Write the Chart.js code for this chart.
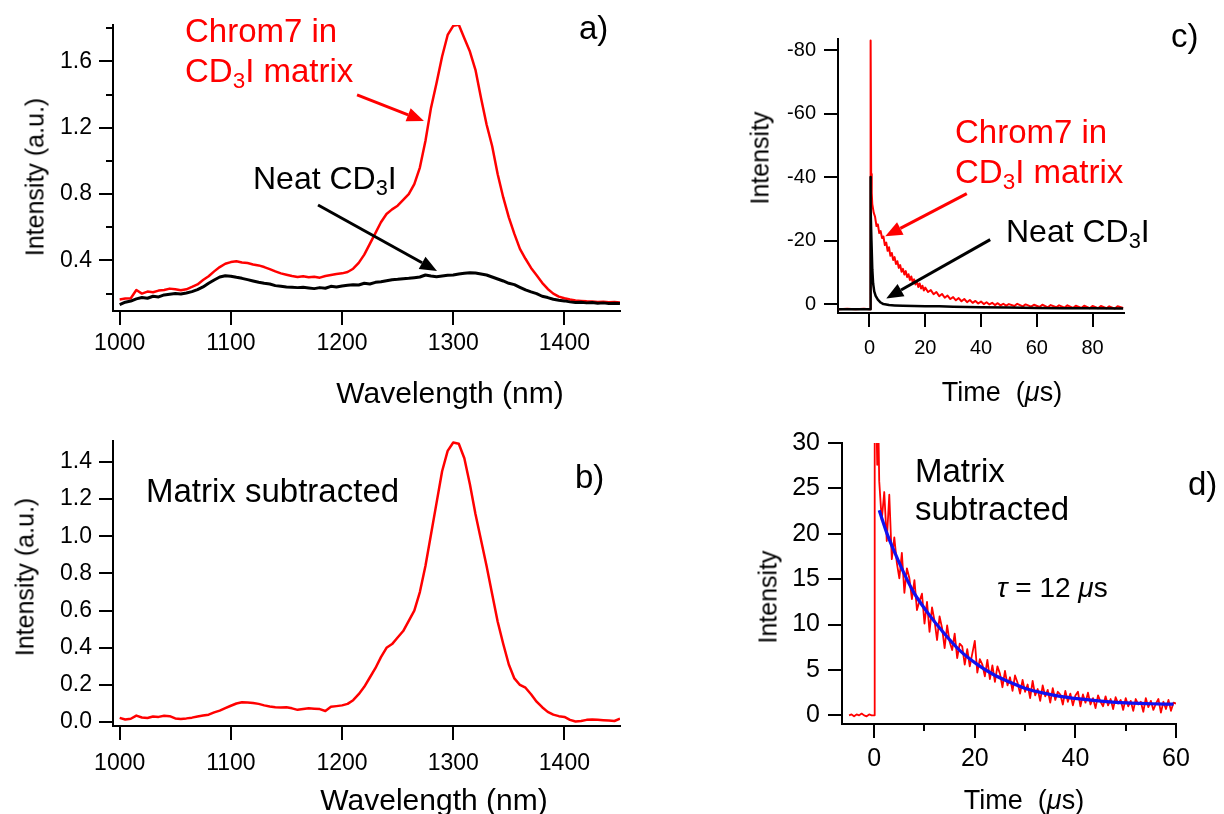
<!DOCTYPE html>
<html>

<head>
    <meta charset="UTF-8">
    <title>Chrom7 emission spectra and decays</title>
    <script src="https://cdn.jsdelivr.net/npm/chart.js"></script>
    <style>
        body {
            margin: 0;
            width: 1224px;
            height: 814px;
            position: relative;
            overflow: hidden;
            background: #fff;
            font-family: "Liberation Sans", Arial, Helvetica, sans-serif;
        }

        canvas {
            position: absolute;
        }

        .ann {
            position: absolute;
            white-space: nowrap;
            font-size: 33px;
            line-height: 40px;
            color: #000;
        }

        .red {
            color: #ff0000;
        }

        .lab {
            position: absolute;
            white-space: nowrap;
            line-height: 1;
            color: #000;
            transform: translate(-50%, -50%);
        }

        .rot {
            transform: translate(-50%, -50%) rotate(-90deg);
        }

        sub {
            font-size: 0.68em;
            vertical-align: -0.28em;
            line-height: 0;
        }
    </style>
</head>

<body>
    <canvas id="chartA" width="640" height="410" style="left:0;top:0"></canvas>
    <canvas id="chartB" width="640" height="394" style="left:0;top:420px"></canvas>
    <canvas id="chartC" width="494" height="410" style="left:730px;top:0"></canvas>
    <canvas id="chartD" width="464" height="394" style="left:760px;top:420px"></canvas>

    <!-- panel a -->
    <div class="ann red" style="left:185px;top:11px">Chrom7 in<br>CD<sub>3</sub>I matrix</div>
    <div class="ann" style="left:253px;top:158px;font-size:32px">Neat CD<sub>3</sub>I</div>
    <div class="ann" style="left:579px;top:8px">a)</div>
    <div class="lab rot" style="left:35px;top:177px;font-size:25px">Intensity (a.u.)</div>
    <div class="lab" style="left:450px;top:393px;font-size:30px">Wavelength (nm)</div>

    <!-- panel b -->
    <div class="ann" style="left:146px;top:471px">Matrix subtracted</div>
    <div class="ann" style="left:575px;top:457px">b)</div>
    <div class="lab rot" style="left:25px;top:577px;font-size:25px">Intensity (a.u.)</div>
    <div class="lab" style="left:434px;top:800px;font-size:30px">Wavelength (nm)</div>

    <!-- panel c -->
    <div class="ann red" style="left:955px;top:112px">Chrom7 in<br>CD<sub>3</sub>I matrix</div>
    <div class="ann" style="left:1006px;top:211px;font-size:32px">Neat CD<sub>3</sub>I</div>
    <div class="ann" style="left:1171px;top:16px">c)</div>
    <div class="lab rot" style="left:760px;top:158px;font-size:25px">Intensity</div>
    <div class="lab" style="left:1002px;top:392px;font-size:27px">Time&nbsp;&nbsp;(<i>μ</i>s)</div>

    <!-- panel d -->
    <div class="ann" style="left:915px;top:452px;line-height:38px">Matrix<br>subtracted</div>
    <div class="ann" style="left:997px;top:571px;font-size:28px;line-height:34px"><i>τ</i> = 12 <i>μ</i>s</div>
    <div class="ann" style="left:1188px;top:464px">d)</div>
    <div class="lab rot" style="left:768px;top:597px;font-size:25px">Intensity</div>
    <div class="lab" style="left:1024px;top:800px;font-size:27px">Time&nbsp;&nbsp;(<i>μ</i>s)</div>

    <script>
        // ---- spectra (panels a, b) ----
        const wavelength = [1000, 1005, 1010, 1015, 1020, 1025, 1030, 1035, 1040, 1045,
            1050, 1055, 1060, 1065, 1070, 1075, 1080, 1085, 1090, 1095,
            1100, 1105, 1110, 1115, 1120, 1125, 1130, 1135, 1140, 1145,
            1150, 1155, 1160, 1165, 1170, 1175, 1180, 1185, 1190, 1195,
            1200, 1205, 1210, 1215, 1220, 1225, 1230, 1235, 1240, 1245,
            1250, 1255, 1260, 1265, 1270, 1275, 1280, 1285, 1290, 1295,
            1300, 1305, 1310, 1315, 1320, 1325, 1330, 1335, 1340, 1345,
            1350, 1355, 1360, 1365, 1370, 1375, 1380, 1385, 1390, 1395,
            1400, 1405, 1410, 1415, 1420, 1425, 1430, 1435, 1440, 1445, 1450];

        const chromInMatrix = [0.165, 0.170, 0.172, 0.222, 0.200, 0.212, 0.208, 0.218, 0.222, 0.230,
            0.226, 0.220, 0.226, 0.240, 0.255, 0.282, 0.305, 0.334, 0.360, 0.380,
            0.390, 0.395, 0.388, 0.384, 0.376, 0.370, 0.360, 0.348, 0.334, 0.322,
            0.314, 0.306, 0.300, 0.304, 0.298, 0.302, 0.296, 0.306, 0.312, 0.318,
            0.322, 0.330, 0.350, 0.385, 0.435, 0.500, 0.565, 0.630, 0.680, 0.708,
            0.730, 0.765, 0.800, 0.860, 0.960, 1.120, 1.320, 1.470, 1.630, 1.760,
            1.815, 1.822, 1.740, 1.660, 1.550, 1.380, 1.220, 1.090, 0.920, 0.780,
            0.660, 0.560, 0.470, 0.410, 0.355, 0.310, 0.265, 0.228, 0.200, 0.182,
            0.172, 0.164, 0.158, 0.156, 0.154, 0.153, 0.150, 0.151, 0.148, 0.149, 0.147];

        const neatMatrix = [0.134, 0.148, 0.155, 0.168, 0.176, 0.172, 0.184, 0.180, 0.192, 0.196,
            0.200, 0.198, 0.204, 0.212, 0.224, 0.240, 0.262, 0.282, 0.300, 0.308,
            0.305, 0.298, 0.292, 0.284, 0.276, 0.268, 0.262, 0.258, 0.248, 0.244,
            0.240, 0.238, 0.236, 0.238, 0.234, 0.230, 0.236, 0.232, 0.244, 0.240,
            0.246, 0.250, 0.254, 0.252, 0.262, 0.258, 0.268, 0.272, 0.278, 0.284,
            0.286, 0.290, 0.292, 0.296, 0.300, 0.312, 0.306, 0.302, 0.306, 0.310,
            0.312, 0.318, 0.322, 0.326, 0.324, 0.318, 0.312, 0.300, 0.288, 0.276,
            0.262, 0.254, 0.238, 0.222, 0.210, 0.200, 0.184, 0.176, 0.166, 0.160,
            0.156, 0.150, 0.146, 0.148, 0.144, 0.146, 0.142, 0.144, 0.140, 0.142, 0.140];

        const subtractedSpectrum = [0.023, 0.014, 0.018, 0.035, 0.025, 0.022, 0.030, 0.028, 0.034, 0.032,
            0.020, 0.017, 0.020, 0.024, 0.030, 0.035, 0.040, 0.052, 0.062, 0.075,
            0.088, 0.100, 0.107, 0.106, 0.103, 0.098, 0.090, 0.084, 0.080, 0.078,
            0.080, 0.074, 0.066, 0.070, 0.074, 0.072, 0.070, 0.060, 0.082, 0.086,
            0.090, 0.098, 0.118, 0.150, 0.190, 0.240, 0.290, 0.350, 0.400, 0.420,
            0.455, 0.490, 0.545, 0.600, 0.700, 0.840, 1.010, 1.180, 1.350, 1.460,
            1.505, 1.498, 1.420, 1.280, 1.120, 0.980, 0.840, 0.690, 0.540, 0.420,
            0.310, 0.235, 0.200, 0.185, 0.150, 0.110, 0.080, 0.055, 0.040, 0.032,
            0.028, 0.012, 0.003, 0.006, 0.012, 0.014, 0.012, 0.010, 0.008, 0.006, 0.018];

        // ---- decays (panel c) ----
        const decayTimeRed = [-11, -8, -5, -2, 0, 0.3, 0.4, 0.6, 0.8, 1,
            1.5, 2, 2.5, 3, 3.5, 4, 4.5, 5, 5.5, 6,
            6.5, 7, 7.5, 8, 8.5, 9, 9.5, 10, 10.5, 11,
            11.5, 12, 12.5, 13, 13.5, 14, 14.5, 15, 15.5, 16,
            16.5, 17, 17.5, 18, 18.5, 19, 19.5, 20, 21, 22,
            23, 24, 25, 26, 27, 28, 29, 30, 31, 32,
            33, 34, 35, 36, 37, 38, 39, 40, 41, 42,
            43, 44, 45, 46, 47, 48, 49, 50, 52, 53,
            55, 56, 58, 59, 61, 62, 64, 65, 67, 68,
            70, 71, 73, 74, 76, 77, 79, 80, 82, 83,
            85, 86, 88, 89, 91];
        const decayRed = [1.6, 1.5, 1.6, 1.5, 1.6, 1.6, -83, -41, -35, -31.5,
            -28.8, -27.5, -24.6, -25.1, -22.4, -23.0, -20.8, -21.3, -18.6, -19.4,
            -16.8, -17.9, -15.2, -16.1, -13.9, -14.8, -12.6, -13.5, -11.4, -12.3,
            -10.2, -11.1, -9.3, -10.4, -8.5, -9.4, -7.6, -8.7, -6.9, -7.8,
            -6.2, -7.1, -5.4, -6.5, -4.9, -5.8, -4.3, -5.2, -3.8, -4.4,
            -3.1, -3.8, -2.5, -3.2, -2.0, -2.7, -1.6, -2.2, -1.2, -1.9,
            -0.9, -1.6, -0.6, -1.3, -0.4, -1.0, -0.2, -0.8, 0.0, -0.6,
            0.1, -0.4, 0.3, -0.3, 0.4, -0.1, 0.5, 0.0, 0.6, -0.1,
            0.7, 0.1, 0.8, 0.2, 0.9, 0.2, 1.0, 0.3, 1.0, 0.4,
            1.1, 0.4, 1.2, 0.5, 1.2, 0.5, 1.3, 0.6, 1.3, 0.6,
            1.3, 0.7, 1.4, 0.7, 1.2];

        const decayTimeBlack = [-11, -5, 0, 0.2, 0.3, 0.5, 0.7, 1, 1.3, 1.7,
            2.2, 3, 4, 5, 6, 7, 9, 12, 16, 20,
            25, 30, 35, 40, 50, 60, 70, 80, 91];
        const decayBlack = [1.6, 1.6, 1.6, 1.6, -40, -30, -20, -11, -6.5, -4,
            -2.6, -1.4, -0.5, 0.0, 0.1, 0.3, 0.4, 0.5, 0.6, 0.7,
            0.7, 0.8, 0.9, 1.0, 1.1, 1.2, 1.3, 1.3, 1.4];

        // ---- matrix subtracted decay (panel d) ----
        const subTime = [-5, -4.5, -4, -3.5, -3, -2.5, -2, -1.5, -1, -0.5, 0, 0.1, 0.4, 0.6, 0.8,
            1, 1.5, 2, 2.5, 3, 3.5, 4, 4.5, 5, 5.5,
            6, 6.5, 7, 7.5, 8, 8.5, 9, 9.5, 10, 10.5,
            11, 11.5, 12, 12.5, 13, 13.5, 14, 14.5, 15, 15.5,
            16, 16.5, 17, 17.5, 18, 18.5, 19, 19.5, 20, 20.5,
            21, 21.5, 22, 22.5, 23, 23.5, 24, 24.5, 25, 25.5,
            26, 26.5, 27, 27.5, 28, 28.5, 29, 29.5, 30, 30.5,
            31, 31.5, 32, 32.5, 33, 33.5, 34, 34.5, 35, 35.5,
            36, 36.5, 37, 37.5, 38, 38.5, 39, 39.5, 40, 40.5,
            41, 41.5, 42, 42.5, 43, 43.5, 44, 44.5, 45, 45.5,
            46, 46.5, 47, 47.5, 48, 48.5, 49, 49.5, 50, 50.5,
            51, 51.5, 52, 52.5, 53, 53.5, 54, 54.5, 55, 55.5,
            56, 56.5, 57, 57.5, 58, 58.5, 59, 59.5, 60];
        const subDecay = [0, 0.1, -0.1, 0.1, 0, 0.2, 0, -0.1, 0.1, 0, 0, 36, 34, 27.6, 33,
            25.8, 21.5, 24.6, 19.2, 24.3, 17.2, 19.6, 16.8, 15.1, 17.9,
            13.5, 16.2, 15.1, 12.8, 14.9, 11.6, 12.6, 13.4, 10.1, 12.5,
            9.2, 11.9, 10.4, 8.3, 10.9, 9.6, 7.4, 9.9, 8.1, 7.2,
            9.0, 6.3, 7.9, 7.6, 5.6, 7.3, 5.4, 6.8, 8.2, 4.7,
            6.2, 5.6, 4.3, 6.1, 4.0, 5.5, 3.7, 5.4, 4.6, 3.1,
            4.9, 3.3, 4.2, 2.7, 4.4, 3.6, 2.4, 3.9, 2.6, 3.4,
            1.9, 3.8, 2.2, 2.9, 1.6, 3.3, 2.1, 2.8, 1.4, 3.0,
            1.7, 2.6, 2.3, 1.2, 2.7, 1.5, 2.4, 1.1, 2.2, 2.6,
            1.0, 2.3, 1.4, 2.5, 1.2, 1.9, 0.8, 2.2, 1.5, 1.0,
            2.1, 1.1, 1.8, 0.7, 2.0, 1.3, 1.7, 0.6, 1.9, 1.0,
            1.6, 0.5, 1.8, 1.2, 1.5, 0.4, 1.9, 0.9, 1.6, 0.6,
            1.3, 1.8, 0.3, 1.5, 0.7, 1.7, 0.5, 1.4, 1.3];

        const fitTime = [1.0, 2.5, 3.8, 5.8, 7.8, 10.5, 13.8, 17.1, 20.4, 23.7, 27, 30.4, 33.7, 37, 40.3, 43.6, 50.2, 55, 59.5];
        const fitDecay = [22.6, 20.1, 18.3, 15.8, 13.6, 11.4, 9.1, 7.1, 5.65, 4.5, 3.65, 2.9, 2.45, 2.1, 1.85, 1.66, 1.37, 1.28, 1.23];

        // minor (unlabelled) tick positions
        const minorTicksA = [0.2, 0.6, 1.0, 1.4, 1.8];
        const minorTicksD = [10, 30, 50];

        const FONT = '"Liberation Sans", Arial, Helvetica, sans-serif';

        function pts(xs, ys) {
            return xs.map((x, i) => ({ x: x, y: ys[i] }));
        }

        // arrows given in data units, converted by the chart's own scales
        function arrowPlugin(list) {
            return {
                id: 'arrows',
                afterDatasetsDraw(chart) {
                    const ctx = chart.ctx, sx = chart.scales.x, sy = chart.scales.y;
                    list.forEach(a => {
                        const x1 = sx.getPixelForValue(a.from[0]), y1 = sy.getPixelForValue(a.from[1]);
                        const x2 = sx.getPixelForValue(a.to[0]), y2 = sy.getPixelForValue(a.to[1]);
                        const ang = Math.atan2(y2 - y1, x2 - x1);
                        const head = 17, half = 7;
                        const bx = x2 - head * Math.cos(ang), by = y2 - head * Math.sin(ang);
                        ctx.save();
                        ctx.strokeStyle = a.color;
                        ctx.fillStyle = a.color;
                        ctx.lineWidth = 3;
                        ctx.beginPath();
                        ctx.moveTo(x1, y1);
                        ctx.lineTo(bx, by);
                        ctx.stroke();
                        ctx.beginPath();
                        ctx.moveTo(x2, y2);
                        ctx.lineTo(bx + half * Math.sin(ang), by - half * Math.cos(ang));
                        ctx.lineTo(bx - half * Math.sin(ang), by + half * Math.cos(ang));
                        ctx.closePath();
                        ctx.fill();
                        ctx.restore();
                    });
                }
            };
        }

        function minorTickPlugin(minor) {
            return {
                id: 'minorTicks',
                afterDraw(chart) {
                    const ctx = chart.ctx, area = chart.chartArea;
                    ctx.save();
                    ctx.strokeStyle = '#000';
                    ctx.lineWidth = 2;
                    (minor.x || []).forEach(v => {
                        const p = Math.round(chart.scales.x.getPixelForValue(v));
                        ctx.beginPath();
                        ctx.moveTo(p, area.bottom);
                        ctx.lineTo(p, area.bottom + 7);
                        ctx.stroke();
                    });
                    (minor.y || []).forEach(v => {
                        const p = Math.round(chart.scales.y.getPixelForValue(v));
                        ctx.beginPath();
                        ctx.moveTo(area.left, p);
                        ctx.lineTo(area.left - 7, p);
                        ctx.stroke();
                    });
                    ctx.restore();
                }
            };
        }

        function axis(min, max, step, size, pad, extra) {
            return Object.assign({
                type: 'linear',
                min: min,
                max: max,
                border: { display: true, color: '#000', width: 2 },
                grid: { drawOnChartArea: false, drawTicks: true, tickLength: 14, color: '#000', lineWidth: 2 },
                ticks: {
                    stepSize: step,
                    includeBounds: false,
                    autoSkip: false,
                    maxRotation: 0,
                    color: '#000',
                    padding: pad,
                    font: { family: FONT, size: size },
                    callback: v => String(Math.round(v * 10) / 10)
                }
            }, extra || {});
        }

        function makeChart(id, box, xAxis, yAxis, datasets, plugins) {
            xAxis.afterFit = s => { s.height = box.h - box.bottom; };
            yAxis.afterFit = s => { s.width = box.left; };
            return new Chart(document.getElementById(id), {
                type: 'line',
                data: { datasets: datasets },
                options: {
                    responsive: false,
                    animation: false,
                    devicePixelRatio: 1,
                    layout: { padding: { left: 0, top: box.top, right: box.w - box.right, bottom: 0 } },
                    plugins: { legend: { display: false }, tooltip: { enabled: false } },
                    elements: { point: { radius: 0 }, line: { tension: 0, borderJoinStyle: 'round' } },
                    scales: { x: xAxis, y: yAxis }
                },
                plugins: plugins
            });
        }

        // panel a
        makeChart('chartA', { w: 640, h: 410, left: 113, right: 620, top: 25, bottom: 311 },
            axis(994, 1450, 100, 23, 5),
            axis(0.095, 1.82, 0.4, 23, 7),
            [
                { data: pts(wavelength, neatMatrix), borderColor: '#000000', borderWidth: 3 },
                { data: pts(wavelength, chromInMatrix), borderColor: '#ff0000', borderWidth: 2.5 }
            ],
            [
                minorTickPlugin({ y: minorTicksA }),
                arrowPlugin([
                    { from: [1213.5, 1.398], to: [1273.7, 1.241], color: '#ff0000' },
                    { from: [1178.4, 0.734], to: [1285.4, 0.336], color: '#000000' }
                ])
            ]);

        // panel b
        const yB = axis(-0.021, 1.514, 0.2, 23, 7);
        yB.ticks.callback = v => v.toFixed(1);
        makeChart('chartB', { w: 640, h: 394, left: 113, right: 620, top: 13, bottom: 306 },
            axis(994, 1450, 100, 23, 10),
            yB,
            [
                { data: pts(wavelength, subtractedSpectrum), borderColor: '#ff0000', borderWidth: 2.5 }
            ],
            []);

        // panel c
        makeChart('chartC', { w: 494, h: 410, left: 108, right: 394, top: 39, bottom: 313 },
            axis(-11.3, 91.3, 20, 20, 9),
            axis(-83.5, 2.8, 20, 20, 8, { reverse: true }),
            [
                { data: pts(decayTimeBlack, decayBlack), borderColor: '#000000', borderWidth: 2.5 },
                { data: pts(decayTimeRed, decayRed), borderColor: '#ff0000', borderWidth: 2 }
            ],
            [
                arrowPlugin([
                    { from: [34.9, -34.8], to: [5.65, -21.35], color: '#ff0000' },
                    { from: [43.3, -20.3], to: [6.0, -1.8], color: '#000000' }
                ])
            ]);

        // panel d
        makeChart('chartD', { w: 464, h: 394, left: 82, right: 416, top: 19, bottom: 304 },
            axis(-6.4, 60, 20, 25, 6),
            axis(-0.95, 30, 5, 25, 8),
            [
                { data: pts(fitTime, fitDecay), borderColor: '#1010f0', borderWidth: 3.2, cubicInterpolationMode: 'monotone' },
                { data: pts(subTime, subDecay), borderColor: '#ff0000', borderWidth: 1.8 }
            ],
            [minorTickPlugin({ x: minorTicksD })]);
    </script>
</body>

</html>
